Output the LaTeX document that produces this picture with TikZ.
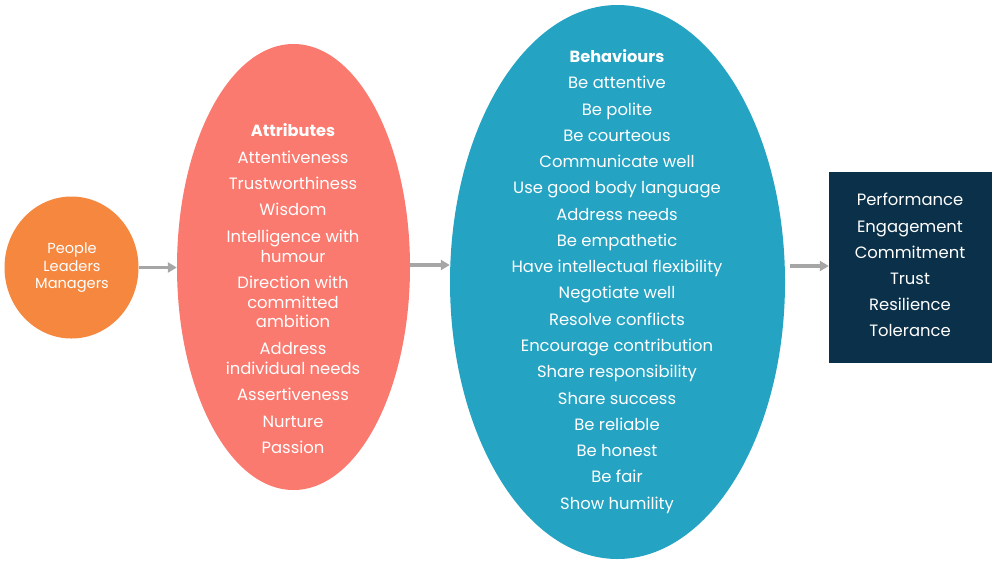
\documentclass[tikz,border=0pt]{standalone}
\usepackage{fontspec}
\setmainfont{Poppins}
\usetikzlibrary{shapes.geometric,arrows.meta}
\definecolor{orangeC}{HTML}{F5873F}
\definecolor{salmonC}{HTML}{FA7A6F}
\definecolor{tealC}{HTML}{25A3C2}
\definecolor{navyC}{HTML}{0B3049}
\definecolor{arrowC}{HTML}{A6A6A6}
\begin{document}
\begin{tikzpicture}[x=1pt,y=-1pt,
  txt/.style={text=white,font=\fontsize{16.4}{19.5}\selectfont,inner sep=0pt,anchor=base},
  smalltxt/.style={text=white,font=\fontsize{14.6}{17.5}\selectfont,inner sep=0pt,anchor=base},
  head/.style={txt,font=\fontsize{16.2}{19.5}\selectfont\bfseries},
  blob/.style={ellipse,inner sep=0pt,draw=none},
  conn/.style={draw=arrowC,line width=3.5pt,-{Triangle[length=9pt,width=10pt]}}]
\useasboundingbox (0,0) rectangle (1000,563);
% shapes
\node[blob,fill=orangeC,minimum width=134pt,minimum height=142pt] (src) at (71.5,267.5) {};
\node[blob,fill=salmonC,minimum width=233pt,minimum height=446pt] (att) at (293.5,267) {};
\node[blob,fill=tealC,minimum width=335pt,minimum height=554pt] (beh) at (617.5,282) {};
\node[fill=navyC,minimum width=163pt,minimum height=191pt,inner sep=0pt] (out) at (910.5,267.5) {};
% connectors
\draw[conn] (src.east |- 0,267.5) -- (att.west |- 0,267.5);
\draw[conn] (att.east |- 0,265) -- (beh.west |- 0,265);
\draw[conn,shorten <=5pt] (beh.east |- 0,266) -- (out.west |- 0,266);
% source text
\foreach \y/\t [count=\i] in {248/People,265.5/Leaders,283/Managers}
  \node[smalltxt] (s\i) at (72,\y+5.5) {\t};
% attributes
\node[head] (ah) at (293,136.5) {Attributes};
\foreach \y/\t [count=\i] in {157/Attentiveness,183/Trustworthiness,209/Wisdom,
  236/Intelligence with,255.5/humour,282/Direction with,302/committed,321/ambition,
  348/Address,368/individual needs,394/Assertiveness,421/Nurture,447/Passion}
  \node[txt] (a\i) at (293,\y+6.5) {\t};
% behaviours
\node[head] (bh) at (617,62.5) {Behaviours};
\foreach \y/\t [count=\i] in {82/Be attentive,109/Be polite,135/Be courteous,
  161/Communicate well,187/Use good body language,214/Address needs,
  240/Be empathetic,266/Have intellectual flexibility,292/Negotiate well,
  319/Resolve conflicts,345/Encourage contribution,371/Share responsibility,
  398/Share success,424/Be reliable,450/Be honest,476/Be fair,503/Show humility}
  \node[txt] (b\i) at (617,\y+6.5) {\t};
% outcomes
\foreach \y/\t [count=\i] in {199/Performance,226/Engagement,252/Commitment,
  278/Trust,304/Resilience,330/Tolerance}
  \node[txt] (o\i) at (910,\y+6.5) {\t};
\end{tikzpicture}
\end{document}
